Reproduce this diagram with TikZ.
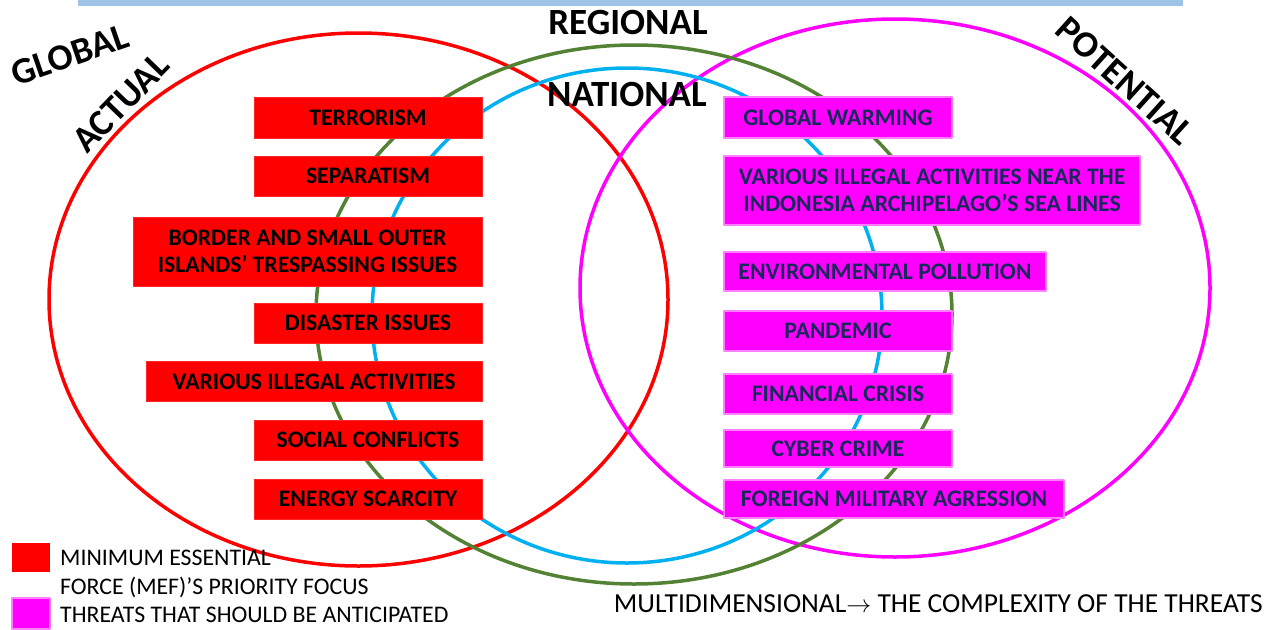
\documentclass[tikz,border=0pt]{standalone}
\usepackage{fontspec}
\setmainfont{Carlito}
\definecolor{barblue}{RGB}{157,195,230}
\definecolor{natblue}{RGB}{0,176,240}
\definecolor{regreen}{RGB}{84,130,53}
\definecolor{mefred}{RGB}{255,0,0}
\definecolor{antpink}{RGB}{255,0,255}
\definecolor{pinkedge}{RGB}{255,128,255}
\definecolor{navytext}{RGB}{23,40,90}
\begin{document}
\begin{tikzpicture}[x=1pt,y=-1pt,line join=round,
	mef/.style={fill=mefred,draw=mefred!85!white,line width=1pt,inner sep=0pt,align=center,font=\fontsize{23.7}{27}\selectfont\bfseries},
	anticip/.style={fill=antpink,draw=pinkedge,line width=1.5pt,inner sep=0pt,align=center,text=navytext,font=\fontsize{23.7}{27}\selectfont\bfseries},
	lvl/.style={font=\fontsize{37}{42}\selectfont\bfseries},
	legtext/.style={anchor=base west,inner sep=0pt,font=\fontsize{23.8}{28}\selectfont}]
	\def\bh{40} \def\bhh{69}
	\useasboundingbox (0,0) rectangle (1271,629);
	\fill[barblue] (78,0) rectangle (1183,6);
	% circles of the threats
	\draw[mefred,line width=3.5pt] (358.5,299.5) ellipse [x radius=309.5pt,y radius=266.5pt];
	\draw[antpink,line width=3.5pt] (895,288) ellipse [x radius=315pt,y radius=269pt];
	\draw[regreen,line width=3.5pt] (634,314.5) ellipse [x radius=318pt,y radius=269.5pt];
	\draw[natblue,line width=3.5pt] (627,315.5) ellipse [x radius=255pt,y radius=247.5pt];
	\node[lvl,rotate=19] (global) at (70,55) {GLOBAL};
	\node[lvl,rotate=46] (actual) at (121,103) {ACTUAL};
	\node[lvl] (regional) at (628,22) {REGIONAL};
	\node[lvl] (national) at (627,94) {NATIONAL};
	\node[lvl,rotate=-42] (potential) at (1125,81) {POTENTIAL};
	% actual threats
	\node[mef,minimum width=228pt,minimum height=41pt] (terror) at (368,117.5) {TERRORISM};
	\node[mef,minimum width=228pt,minimum height=\bh pt] (separ) at (368,176) {SEPARATISM};
	\node[mef,minimum width=349pt,minimum height=\bhh pt] (border) at (307.5,251.5) {BORDER AND SMALL OUTER\\ISLANDS' TRESPASSING ISSUES};
	\node[mef,minimum width=228pt,minimum height=\bh pt] (disaster) at (368,323) {DISASTER ISSUES};
	\node[mef,minimum width=336pt,minimum height=\bh pt] (illegal) at (314,381.5) {VARIOUS ILLEGAL ACTIVITIES};
	\node[mef,minimum width=228pt,minimum height=\bh pt] (social) at (368,440) {SOCIAL CONFLICTS};
	\node[mef,minimum width=228pt,minimum height=\bh pt] (energy) at (368,499) {ENERGY SCARCITY};
	% potential threats
	\node[anticip,minimum width=228pt,minimum height=41pt] (warming) at (838,117.5) {GLOBAL WARMING};
	\node[anticip,minimum width=416pt,minimum height=\bhh pt] (sealines) at (932,190.5) {VARIOUS ILLEGAL ACTIVITIES NEAR THE\\INDONESIA ARCHIPELAGO'S SEA LINES};
	\node[anticip,minimum width=322pt,minimum height=39pt] (pollution) at (885,271.5) {ENVIRONMENTAL POLLUTION};
	\node[anticip,minimum width=228pt,minimum height=\bh pt] (pandemic) at (838,331) {PANDEMIC};
	\node[anticip,minimum width=228pt,minimum height=\bh pt] (financial) at (838,394) {FINANCIAL CRISIS};
	\node[anticip,minimum width=228pt,minimum height=37pt] (cyber) at (838,448.5) {CYBER CRIME};
	\node[anticip,minimum width=340pt,minimum height=38pt] (foreign) at (894,499) {FOREIGN MILITARY AGRESSION};
	% legend
	\fill[mefred] (12,543) rectangle (50,572);
	\filldraw[fill=antpink,draw=pinkedge,line width=1.5pt] (12,598) rectangle (50,629);
	\node[legtext] (mefleg) at (60,565) {MINIMUM ESSENTIAL};
	\node[legtext] (mefleg2) at (60,594) {FORCE (MEF)'S PRIORITY FOCUS};
	\node[legtext] (antleg) at (60,622) {THREATS THAT SHOULD BE ANTICIPATED};
	\node[anchor=base east,inner sep=0pt,font=\fontsize{27.5}{32}\selectfont] (multi) at (1263,612) {MULTIDIMENSIONAL$\rightarrow$ THE COMPLEXITY OF THE THREATS};
\end{tikzpicture}
\end{document}
